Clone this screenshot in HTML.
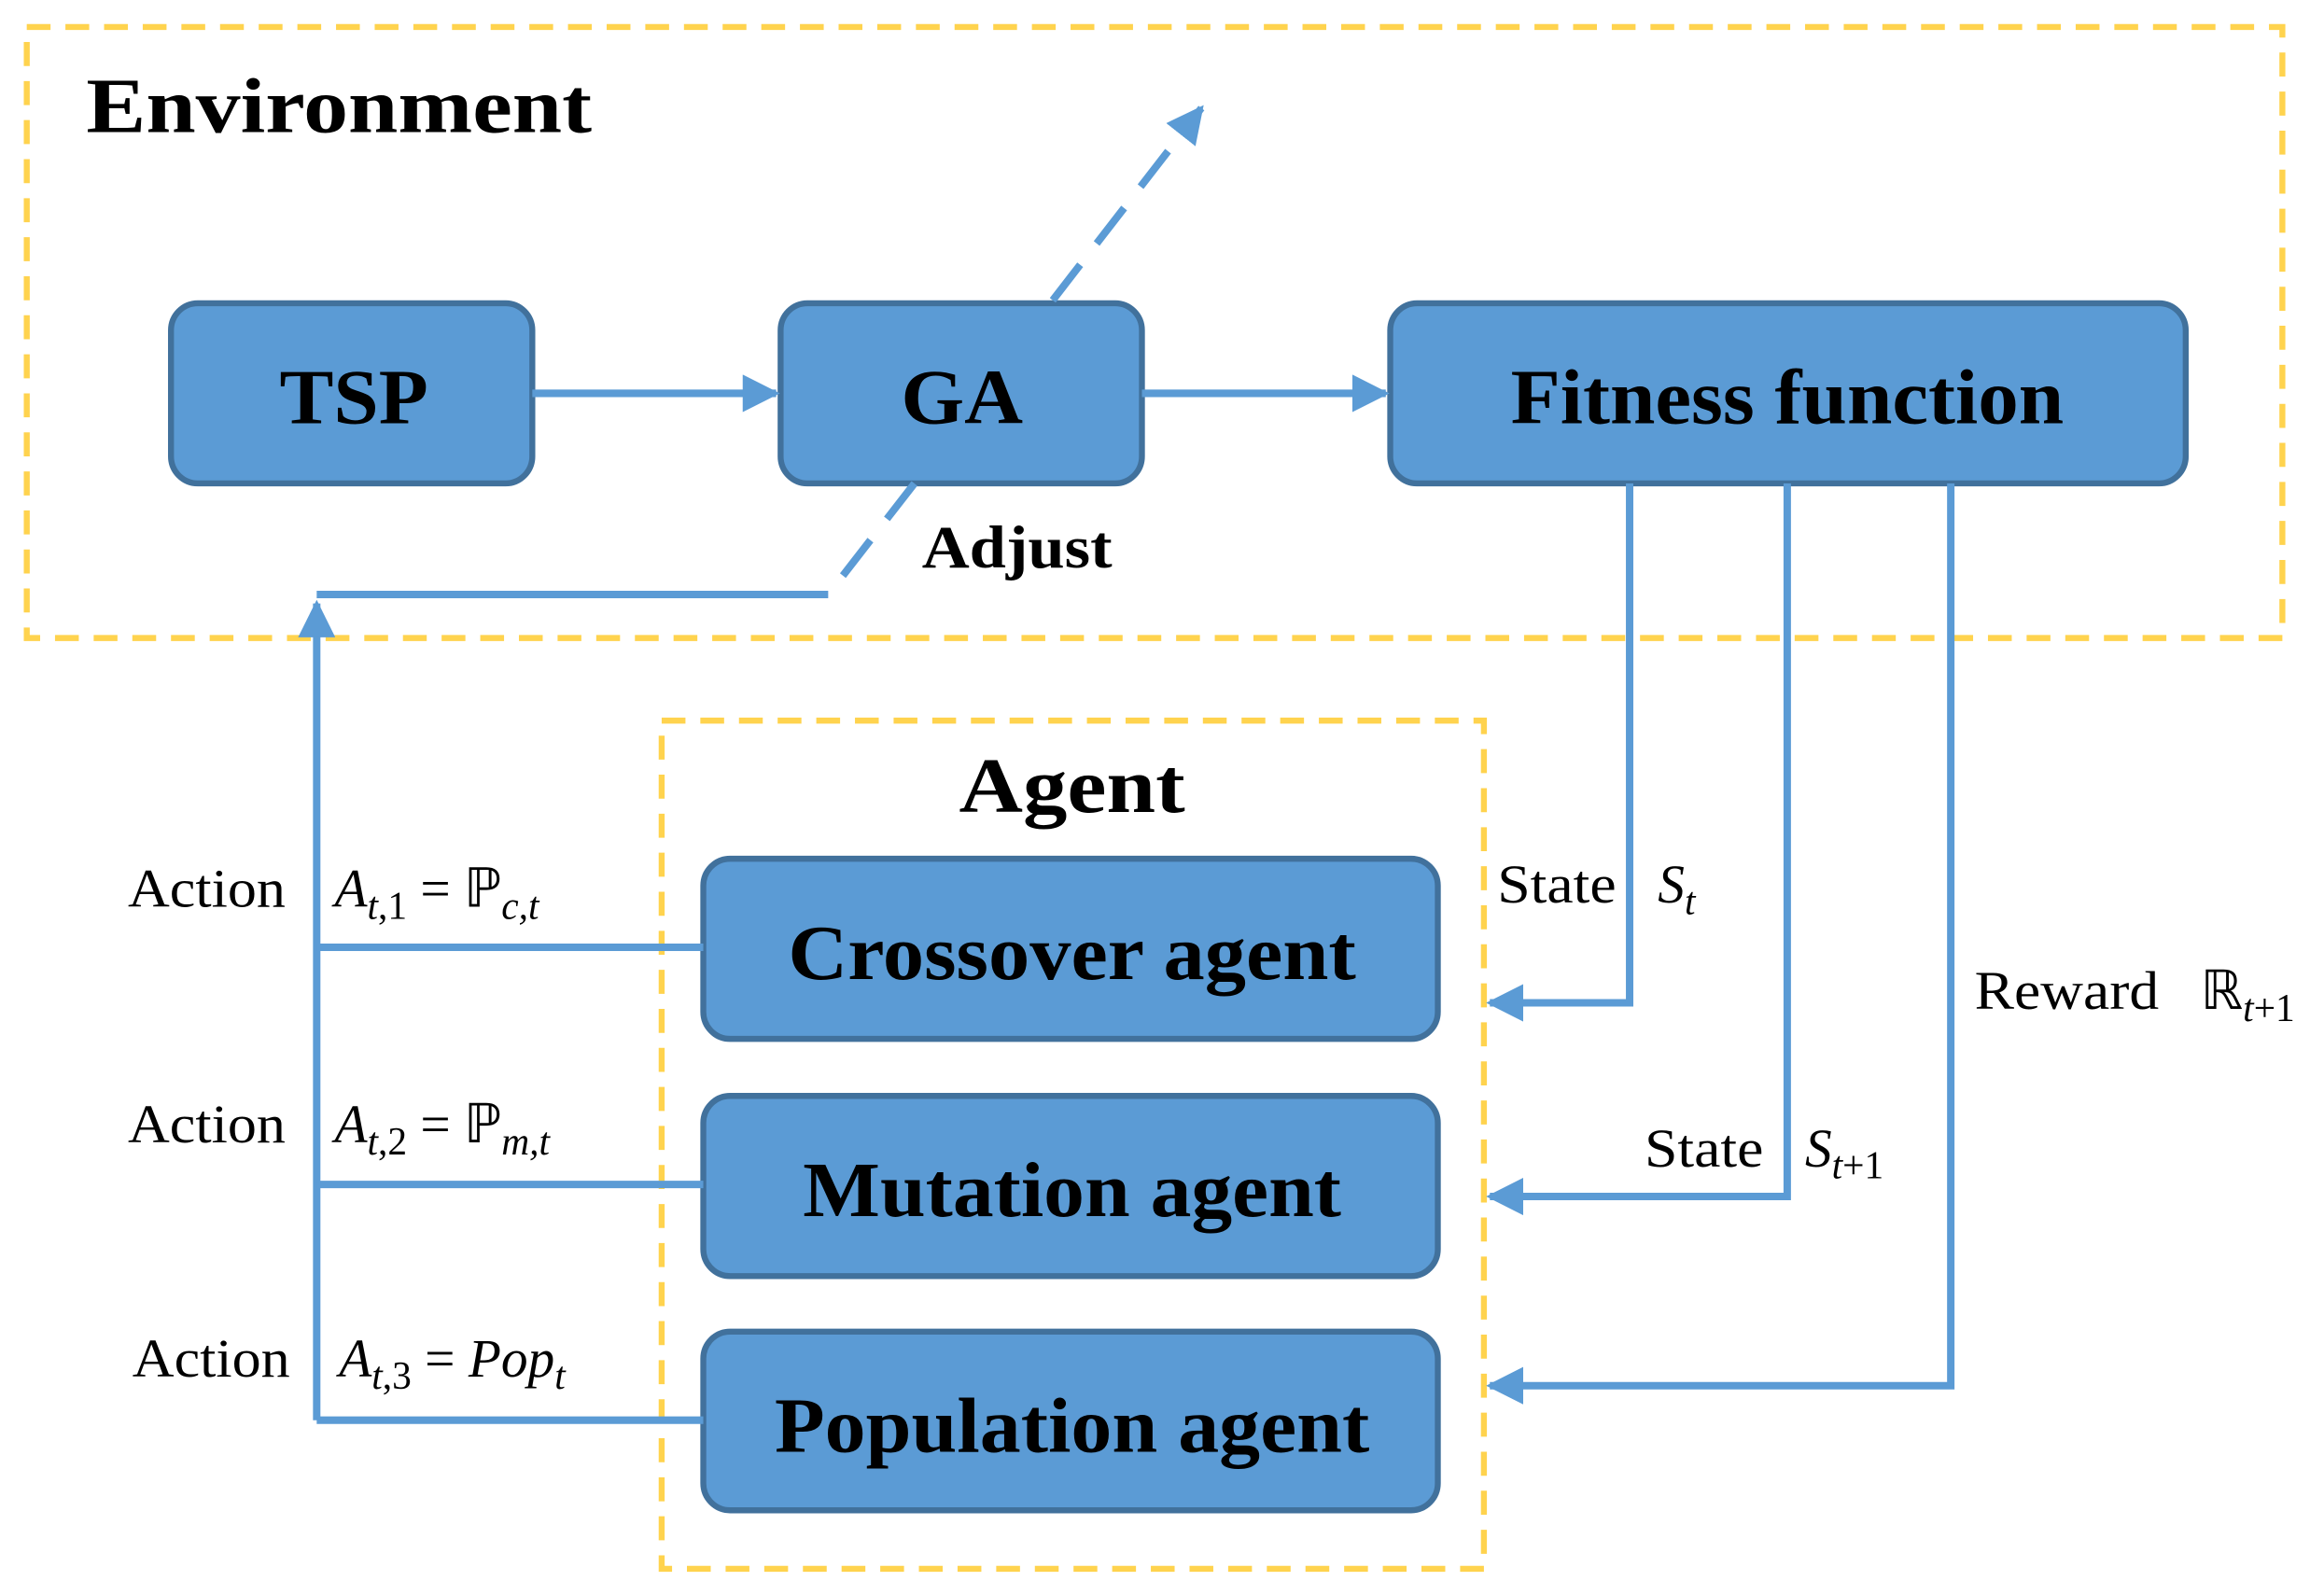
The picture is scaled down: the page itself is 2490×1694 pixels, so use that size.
<!DOCTYPE html>
<html><head><style>html,body{margin:0;padding:0;background:#fff;overflow:hidden}</style></head>
<body>
<svg width="2490" height="1689" viewBox="0 0 1563 1050" preserveAspectRatio="none" xmlns="http://www.w3.org/2000/svg" font-family="Liberation Serif, serif">
<defs>
<marker id="a" viewBox="0 0 10 10" refX="9" refY="5" markerWidth="5" markerHeight="5" orient="auto" markerUnits="strokeWidth"><path d="M0,0 L10,5 L0,10 z" fill="#5B9BD5"/></marker>
</defs>
<g fill="none" stroke="#FFD34E" stroke-width="4" stroke-dasharray="16,10">
<rect x="18" y="18" width="1517" height="407"/>
<rect x="445" y="480" width="553" height="565"/>
</g>
<text x="58" y="88" font-size="52" font-weight="bold" textLength="340" lengthAdjust="spacingAndGlyphs">Environment</text>
<text x="645" y="541" font-size="52" font-weight="bold" textLength="152" lengthAdjust="spacingAndGlyphs">Agent</text>
<g fill="#5B9BD5" stroke="#41719C" stroke-width="4">
<rect x="115" y="202" width="243" height="120" rx="18"/>
<rect x="525" y="202" width="243" height="120" rx="18"/>
<rect x="935" y="202" width="535" height="120" rx="18"/>
<rect x="473" y="572" width="494" height="120" rx="18"/>
<rect x="473" y="730" width="494" height="120" rx="18"/>
<rect x="473" y="887" width="494" height="119" rx="18"/>
</g>
<g font-size="52" font-weight="bold" lengthAdjust="spacingAndGlyphs">
<text x="188" y="282" textLength="100" lengthAdjust="spacingAndGlyphs">TSP</text>
<text x="606" y="282" textLength="82" lengthAdjust="spacingAndGlyphs">GA</text>
<text x="1016" y="282" textLength="372" lengthAdjust="spacingAndGlyphs">Fitness function</text>
<text x="530" y="652" textLength="382" lengthAdjust="spacingAndGlyphs">Crossover agent</text>
<text x="540" y="810" textLength="362" lengthAdjust="spacingAndGlyphs">Mutation agent</text>
<text x="521" y="967" textLength="400" lengthAdjust="spacingAndGlyphs">Population agent</text>
</g>
<g stroke="#5B9BD5" stroke-width="5" fill="none">
<line x1="358" y1="262" x2="522" y2="262" marker-end="url(#a)"/>
<line x1="768" y1="262" x2="932" y2="262" marker-end="url(#a)"/>
<line x1="708" y1="200" x2="808" y2="72" stroke-dasharray="30,18" marker-end="url(#a)"/>
<path d="M615,322 L557,396" stroke-dasharray="30,18"/>
<path d="M557,396 L213,396"/>
<path d="M213,946 L213,402" marker-end="url(#a)"/>
<line x1="213" y1="631" x2="473" y2="631"/>
<line x1="213" y1="789" x2="473" y2="789"/>
<line x1="213" y1="946" x2="473" y2="946"/>
<path d="M1096,322 L1096,668 L1002,668" marker-end="url(#a)"/>
<path d="M1202,322 L1202,797 L1002,797" marker-end="url(#a)"/>
<path d="M1312,322 L1312,923 L1002,923" marker-end="url(#a)"/>
</g>
<text x="620" y="378" font-size="40" font-weight="bold" textLength="128" lengthAdjust="spacingAndGlyphs">Adjust</text>
<g font-size="36">
<text x="86" y="604" textLength="106" lengthAdjust="spacingAndGlyphs">Action</text>
<text x="86" y="761" textLength="106" lengthAdjust="spacingAndGlyphs">Action</text>
<text x="89" y="917" textLength="106" lengthAdjust="spacingAndGlyphs">Action</text>
<text x="225" y="604"><tspan font-style="italic">A</tspan><tspan font-size="26" dy="8"><tspan font-style="italic">t</tspan>,1</tspan><tspan dy="-8"> = ℙ</tspan><tspan font-size="26" dy="8" font-style="italic">c,t</tspan></text>
<text x="225" y="761"><tspan font-style="italic">A</tspan><tspan font-size="26" dy="8"><tspan font-style="italic">t</tspan>,2</tspan><tspan dy="-8"> = ℙ</tspan><tspan font-size="26" dy="8" font-style="italic">m,t</tspan></text>
<text x="228" y="917"><tspan font-style="italic">A</tspan><tspan font-size="26" dy="8"><tspan font-style="italic">t</tspan>,3</tspan><tspan dy="-8"> = </tspan><tspan font-style="italic">Pop</tspan><tspan font-size="26" dy="8" font-style="italic">t</tspan></text>
<text x="1007" y="601" textLength="80" lengthAdjust="spacingAndGlyphs">State</text>
<text x="1115" y="601" font-style="italic">S<tspan font-size="26" dy="8">t</tspan></text>
<text x="1106" y="777" textLength="80" lengthAdjust="spacingAndGlyphs">State</text>
<text x="1214" y="777"><tspan font-style="italic">S</tspan><tspan font-size="26" dy="8"><tspan font-style="italic">t</tspan>+1</tspan></text>
<text x="1328" y="672" textLength="124" lengthAdjust="spacingAndGlyphs">Reward</text>
<text x="1480" y="672">ℝ<tspan font-size="26" dy="8"><tspan font-style="italic">t</tspan>+1</tspan></text>
</g>
</svg>
</body></html>
